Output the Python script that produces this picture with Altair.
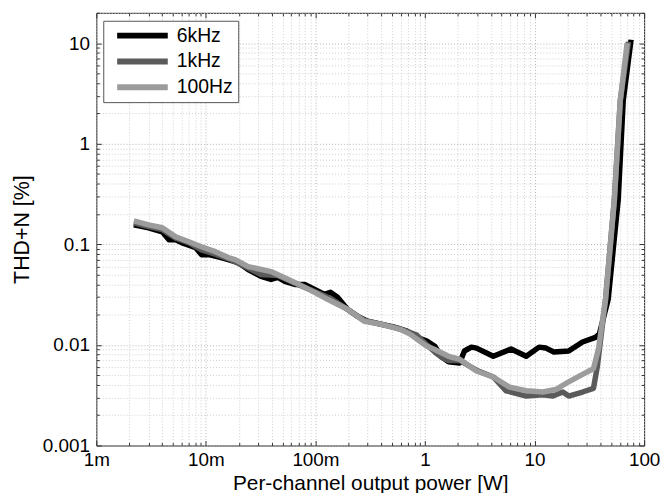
import altair as alt
import pandas as pd

# ---- data ----
SERIES = ["6kHz", "1kHz", "100Hz"]
COLORS = ["#000000", "#5a5a5a", "#9c9c9c"]

P_6K = [0.0022, 0.0030, 0.0040, 0.0046, 0.0053, 0.0060, 0.0081, 0.0091, 0.0106, 0.0138,
        0.0160, 0.0197, 0.0243, 0.0319, 0.0393, 0.0455, 0.0526, 0.0648, 0.0798, 0.0984,
        0.121, 0.137, 0.159, 0.196, 0.241, 0.297, 0.390, 0.521, 0.684, 0.843,
        1.04, 1.23, 1.42, 1.64, 2.07, 2.29, 2.65, 2.95, 4.2, 6.1,
        8.4, 11.0, 12.7, 15.0, 20.5, 27.4, 36.0, 39.0, 47.0, 58.0, 64.5, 76.0]
T_6K = [0.156, 0.146, 0.133, 0.111, 0.111, 0.104, 0.0925, 0.0789, 0.0789, 0.0738,
        0.0705, 0.0658, 0.0561, 0.0479, 0.0447, 0.0468, 0.0427, 0.0399, 0.0399, 0.0356,
        0.0318, 0.0333, 0.0297, 0.0226, 0.0193, 0.0172, 0.0161, 0.0150, 0.0137, 0.0119,
        0.0109, 0.0097, 0.0076, 0.0068, 0.0066, 0.0087, 0.0095, 0.0093, 0.0077, 0.0091,
        0.0077, 0.0095, 0.0093, 0.0085, 0.0087, 0.0107, 0.0119, 0.0128, 0.0284, 0.276, 2.69, 10.8]

P_1K = [0.0022, 0.0030, 0.0040, 0.0053, 0.0070, 0.0091, 0.0122, 0.0160, 0.0243, 0.0319,
        0.0455, 0.0648, 0.0984, 0.137, 0.196, 0.279, 0.390, 0.592, 0.843, 1.04,
        1.23, 1.42, 1.64, 2.07, 2.95, 4.2, 5.5, 6.1, 8.4, 11.9,
        14.7, 18.1, 20.5, 27.4, 34.5, 37.5, 44.4, 53.5, 60.6, 72.0]
T_1K = [0.163, 0.150, 0.140, 0.115, 0.104, 0.088, 0.080, 0.072, 0.058, 0.050,
        0.049, 0.041, 0.034, 0.029, 0.0226, 0.0175, 0.0162, 0.0145, 0.0125, 0.0100,
        0.0085, 0.0075, 0.0070, 0.0070, 0.0056, 0.0048, 0.0035, 0.0034, 0.0031, 0.0032,
        0.0031, 0.0034, 0.0031, 0.0034, 0.0037, 0.0062, 0.028, 0.28, 2.7, 10.3]

P_100 = [0.0022, 0.0030, 0.0040, 0.0053, 0.0070, 0.0091, 0.0122, 0.0160, 0.0185, 0.0243,
         0.0393, 0.0648, 0.0984, 0.129, 0.196, 0.279, 0.390, 0.592, 0.73, 1.04,
         1.2, 1.64, 2.07, 2.95, 4.2, 5.9, 8.4, 11.9, 15.6, 20.5,
         27.4, 34.5, 38.3, 44.4, 53.5, 60.6, 70.0]
T_100 = [0.171, 0.156, 0.146, 0.119, 0.106, 0.0946, 0.0845, 0.0738, 0.0705, 0.0600,
         0.0536, 0.0418, 0.0333, 0.0284, 0.0226, 0.0172, 0.0161, 0.0143, 0.0128, 0.0097,
         0.0091, 0.0077, 0.0072, 0.0055, 0.0048, 0.0038, 0.0035, 0.0034, 0.0036, 0.0043,
         0.0051, 0.0058, 0.0091, 0.028, 0.276, 2.69, 10.0]

X_DECADES = [0.001, 0.01, 0.1, 1, 10, 100]
Y_DECADES = [0.001, 0.01, 0.1, 1, 10]
MULTS = [2, 3, 4, 5, 6, 7, 8, 9]
X_DOMAIN = [0.001, 100]
Y_DOMAIN = [0.001, 20]

X_TITLE = "Per-channel output power [W]"
Y_TITLE = "THD+N [%]"

rows = []
for name, ps, ts in zip(SERIES, [P_6K, P_1K, P_100], [T_6K, T_1K, T_100]):
    for p, t in zip(ps, ts):
        rows.append({"series": name, "P": p, "T": t})
df = pd.DataFrame(rows)

x_minor = [d * m for d in X_DECADES[:-1] for m in MULTS]
y_minor = [v for v in (d * m for d in Y_DECADES for m in MULTS) if v <= Y_DOMAIN[1]]
x_all = sorted(X_DECADES + x_minor)
y_all = sorted(Y_DECADES + y_minor)

DEC = "abs(log(datum.value)/LN10 - round(log(datum.value)/LN10)) < 0.001"
FONT = "Liberation Sans"

xs = alt.Scale(type="log", domain=X_DOMAIN, nice=False)
ys = alt.Scale(type="log", domain=Y_DOMAIN, nice=False)
color = alt.Color("series:N", scale=alt.Scale(domain=SERIES, range=COLORS),
                  sort=SERIES, title=None)

base = alt.Chart(df)

grid_color = {"condition": {"test": DEC, "value": "#b4b4b4"}, "value": "#cfcfcf"}

main_axes = base.mark_point(opacity=0).encode(
    x=alt.X("P:Q", scale=xs, axis=alt.Axis(
        orient="bottom", values=x_all, grid=True, gridColor=grid_color, gridDash=[1, 2],
        gridWidth=1, ticks=False, domain=False, labelPadding=5, labelFontSize=19,
        labelFont=FONT, labelColor="#000", labelFlush=False, labelOverlap=False,
        labelExpr=f"({DEC}) ? (datum.value < 0.5 ? format(datum.value*1000, '.0f') + 'm' : format(datum.value, '.0f')) : ''",
        title=X_TITLE, titleFont=FONT, titleFontSize=21, titleFontWeight="normal",
        titleColor="#000", titlePadding=3)),
    y=alt.Y("T:Q", scale=ys, axis=alt.Axis(
        orient="left", values=y_all, grid=True, gridColor=grid_color, gridDash=[1, 2],
        gridWidth=1, ticks=False, domain=False, labelPadding=7, labelFontSize=19,
        labelFont=FONT, labelColor="#000", labelFlush=False, labelOverlap=False,
        labelExpr=f"({DEC}) ? format(datum.value, '~g') : ''",
        title=Y_TITLE, titleFont=FONT, titleFontSize=21.5, titleFontWeight="normal",
        titleColor="#000", titlePadding=9)),
)


def tick_layer(xo, yo, xv, yv, size):
    return base.mark_point(opacity=0).encode(
        x=alt.X("P:Q", scale=xs, axis=alt.Axis(
            orient=xo, values=xv, grid=False, labels=False, domain=False, ticks=True,
            tickSize=size, offset=-size, tickColor="#333", title=None)),
        y=alt.Y("T:Q", scale=ys, axis=alt.Axis(
            orient=yo, values=yv, grid=False, labels=False, domain=False, ticks=True,
            tickSize=size, offset=-size, tickColor="#333", title=None)),
    )


tick_layers = [
    tick_layer("bottom", "left", X_DECADES, Y_DECADES, 5),
    tick_layer("bottom", "left", x_minor, y_minor, 3),
    tick_layer("top", "right", X_DECADES, Y_DECADES, 5),
    tick_layer("top", "right", x_minor, y_minor, 3),
]

line_layers = []
for name in SERIES:
    line_layers.append(
        base.transform_filter(alt.datum.series == name)
        .mark_line(strokeWidth=5.5, strokeJoin="round")
        .encode(
            x=alt.X("P:Q", scale=xs, axis=None),
            y=alt.Y("T:Q", scale=ys, axis=None),
            color=color,
        )
    )

chart = (
    alt.layer(main_axes, *tick_layers, *line_layers)
    .resolve_axis(x="independent", y="independent")
    .properties(
        width=552, height=436,
        autosize=alt.AutoSizeParams(type="none"),
        padding={"left": 89, "top": 3, "right": 16, "bottom": 46},
        background="white",
    )
    .configure_view(stroke="#222", strokeWidth=1)
    .configure_legend(
        orient="none", legendX=7, legendY=8,
        fillColor="white", strokeColor="#555", strokeWidth=1, padding=5,
        symbolType="stroke", symbolSize=2601, symbolStrokeWidth=6, clipHeight=20,
        rowPadding=6, labelFontSize=19.5, labelFont=FONT, labelColor="#000",
        labelOffset=6, symbolOffset=6, cornerRadius=0,
    )
)

chart.save("out.html", embed_options={"renderer": "svg", "actions": False})
